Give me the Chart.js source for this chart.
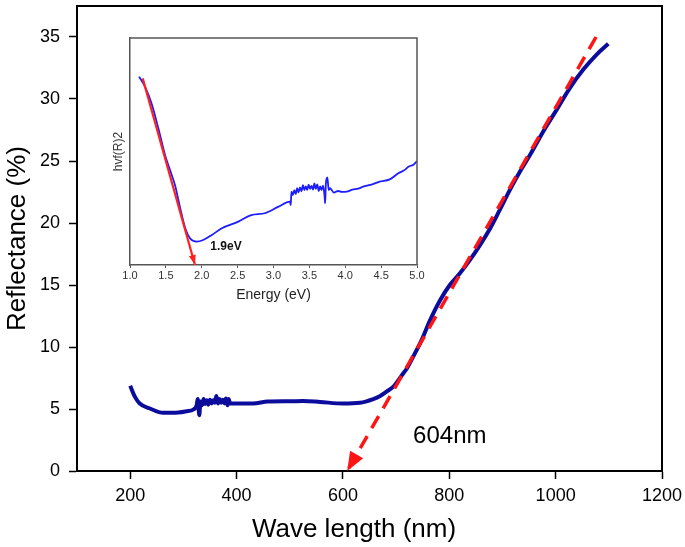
<!DOCTYPE html>
<html>
<head>
<meta charset="utf-8">
<script src="https://cdn.jsdelivr.net/npm/chart.js@4.4.1/dist/chart.umd.min.js"></script>
<style>
  html, body { margin: 0; padding: 0; background: #fff; }
  #wrap { position: relative; width: 685px; height: 547px; }
  #main { position: absolute; left: 0; top: 0; }
  #inset { position: absolute; left: 105px; top: 30px; }
</style>
</head>
<body>
<div id="wrap">
  <canvas id="main" width="685" height="547"></canvas>
  <canvas id="inset" width="330" height="285"></canvas>
</div>
<script>
// ---------- main chart data ----------
const wavelength = [200, 209, 218, 237, 262, 281, 306, 319, 325, 327, 330, 332, 335, 338, 341, 344, 347, 350, 353, 356, 359, 362, 365, 368, 371, 374, 377, 380, 383, 385, 388, 431, 459, 500, 525, 557, 600, 632, 657, 670, 682, 695, 704, 714, 720, 732, 748, 764, 783, 801, 820, 839, 858, 877, 895, 914, 933, 952, 977, 1000, 1027, 1052, 1077, 1099];
const reflectance = [6.87, 5.98, 5.44, 5.04, 4.69, 4.69, 4.82, 4.96, 5.3, 5.8, 4.5, 5.6, 5.3, 5.8, 5.4, 5.7, 5.35, 5.75, 5.45, 5.7, 5.5, 6.05, 5.45, 5.8, 5.5, 5.75, 5.45, 5.85, 5.3, 5.8, 5.44, 5.44, 5.6, 5.62, 5.65, 5.57, 5.44, 5.5, 5.8, 6.05, 6.4, 6.8, 7.3, 7.9, 8.25, 9.21, 10.56, 12.17, 13.79, 15.0, 15.94, 17.02, 18.23, 19.58, 21.06, 22.67, 24.15, 25.5, 27.4, 29.0, 30.9, 32.37, 33.58, 34.45];
const fitWavelength = [1076, 608];
const fitReflectance = [35, 0];
const xTicks = [200, 400, 600, 800, 1000, 1200];
const yTicks = [0, 5, 10, 15, 20, 25, 30, 35];
const edgeLabel = '604nm';
const edgeLabelPos = [801, 2.8];

// ---------- inset data ----------
const energy = [1.126, 1.21, 1.30, 1.395, 1.488, 1.557, 1.627, 1.70, 1.77, 1.836, 1.93, 2.02, 2.14, 2.28, 2.51, 2.69, 2.88, 3.07, 3.23, 3.24, 3.25, 3.27, 3.29, 3.31, 3.33, 3.35, 3.37, 3.39, 3.41, 3.43, 3.45, 3.47, 3.49, 3.51, 3.53, 3.55, 3.57, 3.59, 3.61, 3.63, 3.65, 3.67, 3.69, 3.71, 3.72, 3.73, 3.75, 3.77, 3.79, 3.84, 3.9, 3.95, 4.02, 4.1, 4.18, 4.25, 4.35, 4.48, 4.62, 4.74, 4.83, 4.88, 4.95, 5.0];
const hvf = [83.0, 78.5, 71.2, 60.2, 48.5, 41.9, 35.2, 25.0, 16.2, 11.8, 10.3, 11.0, 13.2, 16.2, 19.1, 22.0, 22.8, 25.7, 27.9, 26.4, 32.3, 30.8, 33.0, 31.2, 33.8, 32.0, 34.2, 32.5, 35.2, 33.0, 34.6, 33.1, 35.4, 33.6, 34.8, 33.2, 35.9, 33.5, 35.5, 32.6, 34.6, 33.0, 35.0, 31.0, 27.2, 36.0, 38.6, 33.0, 33.8, 31.9, 32.6, 32.2, 32.3, 33.2, 33.6, 34.5, 35.3, 36.7, 37.7, 40.4, 41.9, 43.3, 44.2, 45.8];
const insetFitEnergy = [1.177, 1.906];
const insetFitHvf = [82.2, 0];
const insetTicks = [1.0, 1.5, 2.0, 2.5, 3.0, 3.5, 4.0, 4.5, 5.0];
const gapLabel = '1.9eV';
const gapLabelPos = [2.338, 7.9];

const FONT = "'Liberation Sans', Arial, Helvetica, sans-serif";
const pts = (xs, ys) => xs.map((x, i) => ({ x, y: ys[i] }));
const noPad = s => { s.paddingTop = 0; s.paddingBottom = 0; s.paddingLeft = 0; s.paddingRight = 0; };

// arrow heads at the last point of flagged datasets
const arrowPlugin = {
  id: 'arrowHead',
  afterDatasetsDraw(chart) {
    const ctx = chart.ctx;
    chart.data.datasets.forEach((ds, i) => {
      if (!ds.arrow) return;
      const pts = chart.getDatasetMeta(i).data;
      const p1 = pts[pts.length - 1], p0 = pts[pts.length - 2];
      const dx = p1.x - p0.x, dy = p1.y - p0.y;
      const L = Math.hypot(dx, dy), ux = dx / L, uy = dy / L;
      const len = ds.arrow.len, hw = ds.arrow.hw;
      const bx = p1.x - ux * len, by = p1.y - uy * len;
      ctx.save();
      ctx.fillStyle = ds.borderColor;
      ctx.beginPath();
      ctx.moveTo(p1.x, p1.y);
      ctx.lineTo(bx - uy * hw, by + ux * hw);
      ctx.lineTo(bx + uy * hw, by - ux * hw);
      ctx.closePath();
      ctx.fill();
      ctx.restore();
    });
  }
};

// frame on top/right of chart area
function framePlugin(color, width) {
  return {
    id: 'frame',
    afterDraw(chart) {
      const { ctx, chartArea: a } = chart;
      ctx.save();
      ctx.strokeStyle = color;
      ctx.lineWidth = width;
      ctx.beginPath();
      ctx.moveTo(a.left, a.top);
      ctx.lineTo(a.right, a.top);
      ctx.lineTo(a.right, a.bottom);
      ctx.stroke();
      ctx.restore();
    }
  };
}

const mainText = {
  id: 'mainText',
  afterDraw(chart) {
    const { ctx } = chart;
    const xs = chart.scales.x, ys = chart.scales.y;
    ctx.save();
    ctx.fillStyle = '#000';
    ctx.textAlign = 'center';
    ctx.textBaseline = 'middle';
    ctx.font = '24px ' + FONT;
    ctx.fillText(edgeLabel, xs.getPixelForValue(edgeLabelPos[0]), ys.getPixelForValue(edgeLabelPos[1]));
    ctx.font = '26px ' + FONT;
    ctx.fillText('Wave length (nm)', 354, 530);
    ctx.restore();
  }
};

new Chart(document.getElementById('main'), {
  type: 'line',
  data: {
    datasets: [
      {
        data: pts(wavelength, reflectance),
        borderColor: '#0c0c9c',
        borderWidth: 4,
        pointRadius: 0,
        cubicInterpolationMode: 'monotone',
        order: 2
      },
      {
        data: pts(fitWavelength, fitReflectance),
        borderColor: '#ff1414',
        borderWidth: 3.5,
        borderDash: [14, 9],
        pointRadius: 0,
        arrow: { len: 19, hw: 7.5 },
        order: 1
      }
    ]
  },
  options: {
    responsive: false,
    animation: false,
    devicePixelRatio: 1,
    layout: { padding: { top: 6, right: 23, left: 0, bottom: 0 } },
    plugins: { legend: { display: false }, tooltip: { enabled: false } },
    scales: {
      x: {
        type: 'linear',
        min: 100, max: 1200,
        afterBuildTicks: s => { s.ticks = xTicks.map(v => ({ value: v })); },
        afterFit: s => { s.height = 76; noPad(s); },
        grid: { display: true, drawOnChartArea: false, drawTicks: true, tickLength: 8, tickColor: '#000', tickWidth: 1.5 },
        border: { display: true, color: '#000', width: 2 },
        ticks: { color: '#000', font: { family: FONT, size: 18 }, padding: 6, maxRotation: 0, callback: v => String(v) },
        title: { display: false }
      },
      y: {
        type: 'linear',
        min: 0, max: 37.5,
        afterBuildTicks: s => { s.ticks = yTicks.map(v => ({ value: v })); },
        afterFit: s => { s.width = 77; noPad(s); },
        grid: { display: true, drawOnChartArea: false, drawTicks: true, tickLength: 8, tickColor: '#000', tickWidth: 1.5 },
        border: { display: true, color: '#000', width: 2 },
        ticks: { color: '#000', font: { family: FONT, size: 18 }, padding: 9, callback: v => String(v) },
        title: { display: true, text: 'Reflectance (%)', color: '#000', font: { family: FONT, size: 26 }, padding: { top: 2, bottom: 0 } }
      }
    }
  },
  plugins: [arrowPlugin, framePlugin('#000', 2), mainText]
});

const insetText = {
  id: 'insetText',
  afterDraw(chart) {
    const { ctx } = chart;
    const xs = chart.scales.x, ys = chart.scales.y;
    ctx.save();
    ctx.fillStyle = '#111';
    ctx.textAlign = 'center';
    ctx.textBaseline = 'middle';
    ctx.font = 'bold 12px ' + FONT;
    ctx.fillText(gapLabel, xs.getPixelForValue(gapLabelPos[0]), ys.getPixelForValue(gapLabelPos[1]));
    ctx.restore();
  }
};

new Chart(document.getElementById('inset'), {
  type: 'line',
  data: {
    datasets: [
      {
        data: pts(energy, hvf),
        borderColor: '#1c1cff',
        borderWidth: 1.8,
        pointRadius: 0,
        cubicInterpolationMode: 'monotone',
        order: 2
      },
      {
        data: pts(insetFitEnergy, insetFitHvf),
        borderColor: '#ff2020',
        borderWidth: 2.2,
        pointRadius: 0,
        arrow: { len: 10, hw: 3.5 },
        order: 1
      }
    ]
  },
  options: {
    responsive: false,
    animation: false,
    devicePixelRatio: 1,
    layout: { padding: { top: 8, right: 18, left: 0, bottom: 0 } },
    plugins: { legend: { display: false }, tooltip: { enabled: false } },
    scales: {
      x: {
        type: 'linear',
        min: 1.0, max: 5.0,
        afterBuildTicks: s => { s.ticks = insetTicks.map(v => ({ value: v })); },
        afterFit: s => { s.height = 50; noPad(s); },
        grid: { display: true, drawOnChartArea: false, drawTicks: true, tickLength: 3, tickColor: '#555', tickWidth: 1 },
        border: { display: true, color: '#555', width: 1.5 },
        ticks: { color: '#333', font: { family: FONT, size: 11 }, padding: 1, maxRotation: 0, callback: v => Number(v).toFixed(1) },
        title: { display: true, text: 'Energy (eV)', color: '#222', font: { family: FONT, size: 14 }, padding: { top: 2, bottom: 11 } }
      },
      y: {
        type: 'linear',
        min: 0, max: 100,
        afterFit: s => { s.width = 25; noPad(s); },
        grid: { display: false, drawTicks: false },
        border: { display: true, color: '#555', width: 1.5 },
        ticks: { display: false },
        title: { display: true, text: 'hvf(R)2', color: '#333', font: { family: FONT, size: 12 }, padding: { top: 6, bottom: 0 } }
      }
    }
  },
  plugins: [arrowPlugin, framePlugin('#555', 1.5), insetText]
});
</script>
</body>
</html>
